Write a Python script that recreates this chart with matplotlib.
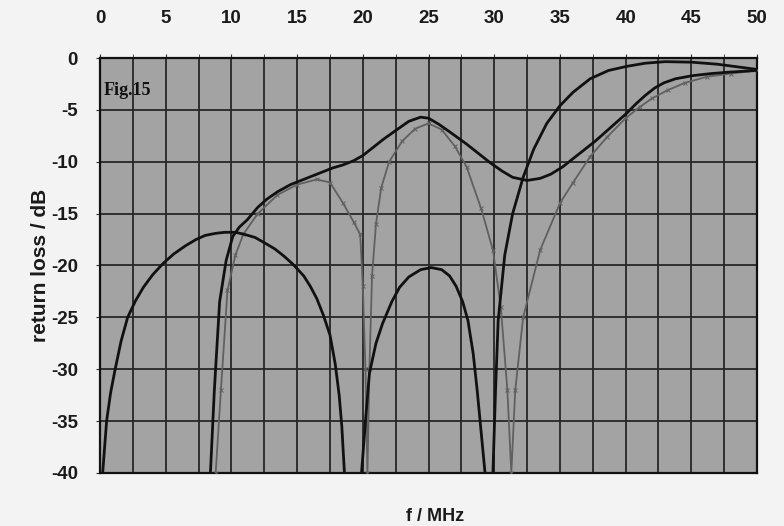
import numpy as np
import matplotlib
matplotlib.use("Agg")
import matplotlib.pyplot as plt

plt.rcParams["axes.unicode_minus"] = False

nan = np.nan

# series 1 (dark): three lobes, NaN separates the pieces
s1_f = [0.2, 0.5, 0.8, 1.15, 1.6, 2.1, 2.7, 3.3, 4.0, 4.8, 5.6, 6.5, 7.3, 8.0, 8.8, 9.5, 10.3, 11.0, 11.8, 12.5,
        13.3, 14.0, 14.7, 15.5, 16.0, 16.5, 17.0, 17.5, 17.9, 18.2, 18.4, 18.6,
        nan,
        19.9, 20.2, 20.5, 21.0, 21.5, 22.2, 22.8, 23.5, 24.4, 25.2, 26.0, 26.6, 27.1, 27.6, 28.0, 28.4, 28.7,
        29.0, 29.3,
        nan,
        29.9, 30.1, 30.3, 30.8, 31.4, 32.2, 33.0, 34.0, 35.0, 36.0, 37.3, 38.7, 40.1, 41.5, 43.0, 45.0, 47.0,
        50.0]
s1_db = [-40, -35, -32.3, -30, -27.3, -25, -23.4, -22.1, -20.9, -19.8, -18.9, -18.1, -17.5, -17.1, -16.9, -16.8,
         -16.8, -17.0, -17.3, -17.8, -18.4, -19.1, -19.9, -21.0, -22.0, -23.2, -24.8, -26.7, -29.5, -32.5, -35.5,
         -40,
         nan,
         -40, -35, -30.4, -27.5, -25.6, -23.5, -22.1, -21.1, -20.4, -20.2, -20.4, -21.0, -22.0, -23.5, -25.3, -28.5,
         -32, -36, -40,
         nan,
         -40, -32, -25.3, -19.0, -15.0, -11.5, -8.8, -6.3, -4.6, -3.3, -2.0, -1.2, -0.8, -0.5, -0.35, -0.4, -0.6,
         -1.1]

# series 2 (dark): upper envelope
s2_f = [8.4, 8.7, 9.1, 9.6, 10.1, 10.6, 11.2, 12.0, 12.7, 13.5, 14.5, 15.5, 16.5, 17.7, 18.5, 19.3, 20.0, 20.8,
        21.6, 22.6, 23.5, 24.4, 25.0, 25.8, 26.7, 27.9, 28.8, 29.7, 30.6, 31.4, 32.5, 33.5, 34.3, 35.2, 36.0, 36.8,
        37.7, 38.5, 39.3, 40.1, 40.8, 41.5, 42.2, 42.9, 43.8, 45.1, 46.5, 48.0, 50.0]
s2_db = [-40, -32, -23.5, -19.5, -17.2, -16.3, -15.6, -14.4, -13.6, -12.9, -12.2, -11.7, -11.2, -10.6, -10.3, -9.9,
         -9.4, -8.6, -7.8, -6.9, -6.1, -5.7, -5.8, -6.4, -7.2, -8.3, -9.2, -10.1, -10.9, -11.5, -11.8, -11.6, -11.2,
         -10.5, -9.7, -8.9, -8.0, -7.1, -6.2, -5.3, -4.4, -3.6, -2.9, -2.4, -2.0, -1.7, -1.5, -1.35, -1.2]

# series 3 (grey, measured)
s3_f = [8.8, 9.2, 9.7, 10.3, 10.9, 12.0, 13.5, 15.0, 16.5, 17.5, 18.5, 19.3, 19.8, 20.0, 20.2, 20.35, 20.5, 20.7,
        21.0, 21.4, 22.0, 23.0, 24.0, 25.0, 26.0, 27.0, 27.9, 29.0, 29.9, 30.5, 31.0, 31.3, 31.6, 32.2, 33.5, 35.0,
        36.0, 37.3, 38.6, 40.0, 41.1, 42.0, 43.2, 44.5, 46.2, 48.0, 50.0]
s3_db = [-40, -32, -22.4, -19, -17.0, -15.0, -13.2, -12.2, -11.7, -12.0, -14, -15.8, -17, -22, -30, -40, -30, -21,
         -16, -12.5, -10, -8.0, -6.8, -6.3, -6.9, -8.5, -10.5, -14.5, -18.5, -24, -32, -40, -32, -25, -18.5, -14,
         -12, -9.5, -7.6, -5.8, -4.7, -3.9, -3.1, -2.4, -1.8, -1.5, -1.2]

x_ticks = list(range(0, 51, 5))
y_ticks = list(range(0, -41, -5))

fig = plt.figure(figsize=(7.84, 5.26), dpi=100, facecolor="#f3f3f3")
ax = fig.add_axes([0.1276, 0.1008, 0.8380, 0.7889])
ax.set_facecolor("#a3a3a3")

ax.plot(s3_f, s3_db, color="#606060", lw=1.3, marker="x", ms=3, mew=0.7, zorder=3)
ax.plot(s2_f, s2_db, color="#111111", lw=2.0, zorder=4)
ax.plot(s1_f, s1_db, color="#111111", lw=2.0, zorder=4)

ax.set_xlim(0, 50)
ax.set_ylim(-40, 0)
ax.set_xticks(x_ticks)
ax.set_xticks(np.arange(0, 50.1, 2.5), minor=True)
ax.set_yticks(y_ticks)
ax.grid(True, which="both", axis="x", color="#262626", lw=1.3)
ax.grid(True, which="major", axis="y", color="#262626", lw=1.3)
ax.set_axisbelow(True)

ax.xaxis.tick_top()
ax.tick_params(axis="x", which="both", top=True, bottom=False, length=3, color="#333333",
               labelsize=13.5, pad=19)
ax.tick_params(axis="y", length=3, color="#333333", labelsize=13.5, pad=13)
for lab in ax.get_xticklabels() + ax.get_yticklabels():
    lab.set_fontweight("bold")
    lab.set_family("Liberation Sans")
    lab.set_color("#1a1a1a")

for sp in ax.spines.values():
    sp.set_color("#111111")
    sp.set_linewidth(1.6)

fig.text(0.052, 0.496, "return loss / dB", rotation=90, ha="center", va="center", fontsize=15,
         fontweight="bold", family="Liberation Sans", color="#1a1a1a")
fig.text(0.555, 0.019, "f / MHz", ha="center", va="center", fontsize=13,
         fontweight="bold", family="Liberation Sans", color="#1a1a1a")
ax.text(0.25, -3.1, "Fig.15", fontsize=13, fontweight="bold", family="Liberation Serif",
        color="#111111", va="center", ha="left")

fig.savefig("out.png", dpi=100, facecolor=fig.get_facecolor())
